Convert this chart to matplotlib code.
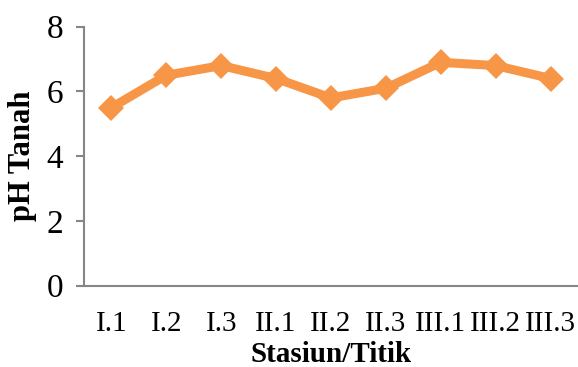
import matplotlib
matplotlib.use('Agg')
import matplotlib.pyplot as plt

# pH tanah per stasiun / titik
titik = ['I.1', 'I.2', 'I.3', 'II.1', 'II.2', 'II.3', 'III.1', 'III.2', 'III.3']
ph = [5.5, 6.5, 6.8, 6.4, 5.8, 6.1, 6.9, 6.8, 6.4]
y_ticks = [0, 2, 4, 6, 8]

plt.rcParams['font.family'] = ['Liberation Serif', 'DejaVu Serif']

fig = plt.figure(figsize=(5.78, 3.67), dpi=100)
ax = fig.add_axes([0.1453, 0.2215, 0.8547, 0.7057])

x = list(range(len(titik)))
ax.plot(x, ph, color='#F79646', linewidth=6.5, marker='D', markersize=13,
        markeredgewidth=0, solid_joinstyle='miter', clip_on=False)

ax.set_xlim(-0.5, len(titik) - 0.5)
ax.set_ylim(0, 8)
ax.set_yticks(y_ticks)
ax.set_xticks(x)
ax.set_xticklabels(titik)

for s in ['top', 'right']:
    ax.spines[s].set_visible(False)
for s in ['left', 'bottom']:
    ax.spines[s].set_color('#868686')
    ax.spines[s].set_linewidth(1.5)

ax.tick_params(axis='y', length=6, width=1.5, color='#868686', labelsize=24, pad=9)
ax.tick_params(axis='x', length=0, labelsize=21, pad=18)

ax.set_ylabel('pH Tanah', fontsize=22, fontweight='bold', labelpad=7)
ax.set_xlabel('Stasiun/Titik', fontsize=21, fontweight='bold', labelpad=3)

fig.savefig('out.png', dpi=100)
